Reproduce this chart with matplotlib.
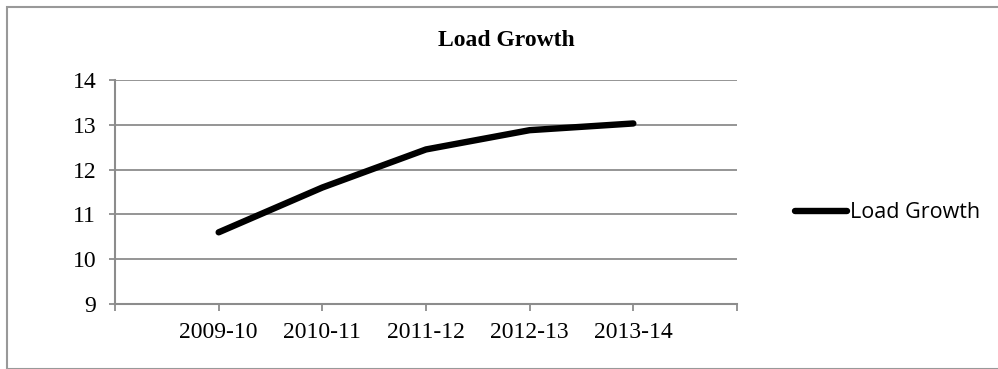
import matplotlib
matplotlib.use("Agg")
import matplotlib.pyplot as plt
from matplotlib.patches import Rectangle

years = ["2009-10", "2010-11", "2011-12", "2012-13", "2013-14"]
load_growth = [10.6, 11.6, 12.45, 12.88, 13.03]
y_ticks = [9, 10, 11, 12, 13, 14]

W, H = 998, 369
fig = plt.figure(figsize=(W / 100, H / 100), dpi=100)

def px(x0, y0, x1, y1):
    # pixel box (top-left origin) -> figure fraction rect
    return [x0 / W, 1 - y1 / H, (x1 - x0) / W, (y1 - y0) / H]

ax = fig.add_axes(px(115, 80, 737, 304))

grid_c = "#8c8c8c"
xs = list(range(1, len(years) + 1))
ax.plot(xs, load_growth, color="black", lw=4.6, solid_capstyle="round",
        solid_joinstyle="round", label="Load Growth", zorder=3)

ax.set_xlim(0, len(years) + 1)
ax.set_ylim(9, 14)
ax.set_xticks(range(0, len(years) + 2))
ax.set_xticklabels([""] + years + [""])
ax.set_yticks(y_ticks)
ax.yaxis.grid(True, color=grid_c, lw=1.3)
ax.set_axisbelow(True)

for s in ["top", "right"]:
    ax.spines[s].set_visible(False)
for s in ["left", "bottom"]:
    ax.spines[s].set_color(grid_c)
    ax.spines[s].set_linewidth(1.5)

ax.tick_params(axis="x", direction="out", length=5, width=1.3, color=grid_c,
               pad=8, labelsize=17)
ax.tick_params(axis="y", direction="out", length=4.5, width=1.3, color=grid_c,
               pad=9, labelsize=17)
for lab in ax.get_xticklabels() + ax.get_yticklabels():
    lab.set_fontfamily("Liberation Serif")

fig.text(506 / W, 1 - 40 / H, "Load Growth", ha="center", va="center",
         fontsize=17, fontweight="bold", family="Liberation Serif")

leg = ax.legend(loc="center left", bbox_to_anchor=(795 / W, 1 - 213 / H),
                bbox_transform=fig.transFigure, frameon=False,
                handlelength=2.4, handletextpad=0.15, borderpad=0,
                borderaxespad=0, prop={"family": "Open Sans", "size": 15.5})

fig.patches.append(Rectangle((6.5 / W, 0.5 / H), 1.0, 1 - 7 / H,
                             transform=fig.transFigure, fill=False,
                             edgecolor="#999999", lw=1.5, clip_on=False))

fig.savefig("out.png", dpi=100)
